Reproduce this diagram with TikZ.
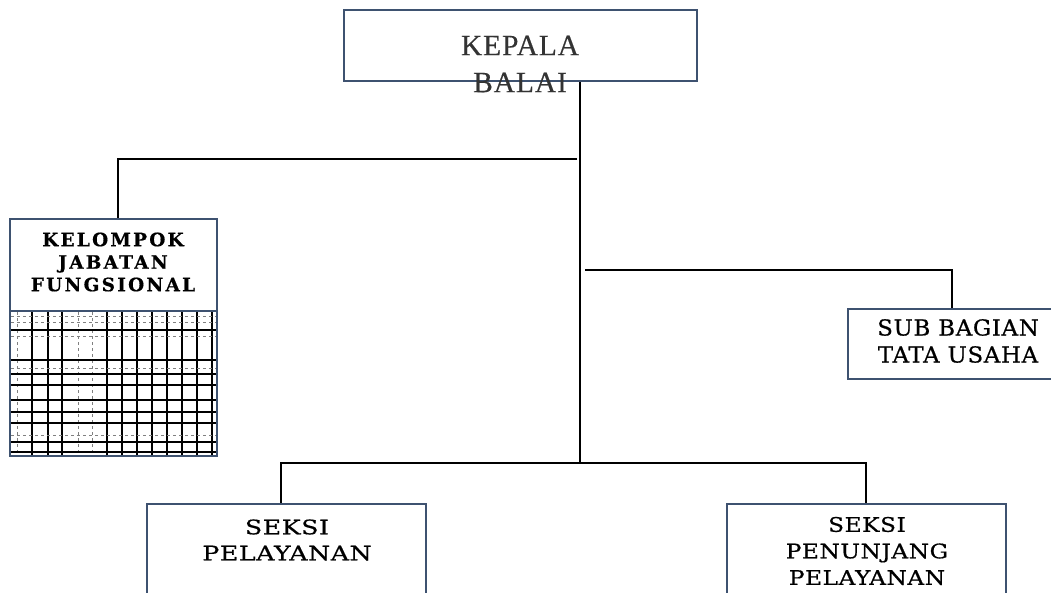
\documentclass[tikz,border=0pt]{standalone}
\usepackage{fontspec}
\setmainfont{Liberation Serif}
\newfontfamily\kepalafont{Liberation Serif}[LetterSpace=3,FakeBold=0.4]
\newfontfamily\tufont{DejaVu Serif}[LetterSpace=3,FakeStretch=1.04,FakeBold=0.7]
\newfontfamily\spfont{DejaVu Serif}[LetterSpace=3,FakeStretch=1.26,FakeBold=0.7]
\newfontfamily\sppfont{DejaVu Serif}[LetterSpace=3,FakeStretch=1.16,FakeBold=0.7]
\newfontfamily\kjffont{DejaVu Serif}[LetterSpace=12,FakeBold=0.5]
\definecolor{boxline}{RGB}{62,82,112}
\usetikzlibrary{calc}

\begin{document}
\begin{tikzpicture}[x=1pt,y=-1pt,
	unit/.style={draw=boxline,line width=1.8pt,rectangle,inner sep=0pt},
	link/.style={draw=black,line width=1.8pt},
	txt/.style={align=center,inner sep=0pt}]

	\useasboundingbox (0,0) rectangle (1051,593);

	\node[unit,minimum width=353,minimum height=71] (kepala) at (520.5,45.5) {};
	\node[unit,minimum width=207,minimum height=237] (kjf) at (113.5,337.5) {};
	\node[unit,minimum width=208,minimum height=70] (tu) at (952,344) {};
	\node[unit,minimum width=279,minimum height=100] (sp) at (286.5,554) {};
	\node[unit,minimum width=279,minimum height=100] (spp) at (866.5,554) {};

	\draw[draw=boxline,line width=1.8pt] (kjf.west |- 0,311) -- (kjf.east |- 0,311);

	\foreach \x in {32,48,62,107,122,137,152,167,182,197,212}
		\draw[line width=2pt] (\x,312) -- (\x,455);
	\foreach \x in {17,78,92}
		\draw[line width=0.6pt,dashed,black!50] (\x,312) -- (\x,455);
	\foreach \y in {330,360,374,385,400,412,423,442,452}
		\draw[line width=2pt] (11,\y) -- (216,\y);
	\foreach \y in {316,322,336,368,435}
		\draw[line width=0.6pt,dashed,black!50] (11,\y) -- (216,\y);

	\node[txt,text=black!80,font={\kepalafont\fontsize{29.5}{37}\selectfont}] (tkepala) at (520,64) {KEPALA\\BALAI};
	\node[txt,font={\kjffont\bfseries\fontsize{18.5}{22.5}\selectfont}] (tkjf) at (113,262) {KELOMPOK\\JABATAN\\FUNGSIONAL};
	\node[txt,font={\tufont\fontsize{22}{27}\selectfont}] (ttu) at (958,341) {SUB BAGIAN\\TATA USAHA};
	\node[txt,font={\spfont\fontsize{20}{26}\selectfont}] (tsp) at (287,540) {SEKSI\\PELAYANAN};
	\node[txt,font={\sppfont\fontsize{20}{26.5}\selectfont}] (tspp) at (867,551) {SEKSI\\PENUNJANG\\PELAYANAN};

	\coordinate (trunk) at (580,463);
	\coordinate (lj) at (577,159);
	\coordinate (rj) at (585,270);

	\draw[link] (kepala.south -| trunk) -- (trunk);
	\draw[link] (lj) -| ([xshift=4.5]kjf.north);
	\draw[link] (rj) -| (tu.north);
	\draw[link] ([xshift=-5.5]sp.north) |- (trunk) -| ([xshift=-0.5]spp.north);

\end{tikzpicture}
\end{document}
